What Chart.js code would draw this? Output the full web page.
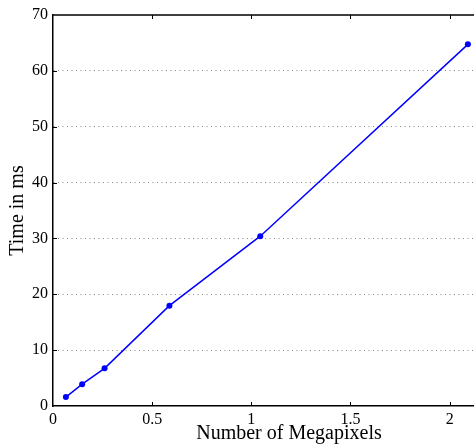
<!DOCTYPE html>
<html>
<head>
<meta charset="utf-8">
<script src="https://cdn.jsdelivr.net/npm/chart.js@4"></script>
<style>
  html, body { margin: 0; padding: 0; background: #fff; overflow: hidden; }
  /* the axes box runs past the right edge of the window, like the cropped original */
  #wrap { position: relative; width: 529px; height: 444px; }
</style>
</head>
<body>
<div id="wrap"><canvas id="chart_one"></canvas></div>
<script>
// values
var megapixels = [0.065, 0.147, 0.26, 0.587, 1.045, 2.092];
var times_ms   = [1.6, 3.9, 6.75, 17.96, 30.4, 64.75];
var x_ticks = [0, 0.5, 1, 1.5, 2];
var y_ticks = [0, 10, 20, 30, 40, 50, 60, 70];

var serif = "'Liberation Serif', 'DejaVu Serif', serif";

// matlab style frame: top line + inward tick marks
var framePlugin = {
    id: 'frame',
    afterDraw: function (chart) {
        var ctx = chart.ctx;
        var a = chart.chartArea;
        var xs = chart.scales.x, ys = chart.scales.y;
        ctx.save();
        ctx.strokeStyle = '#000';
        ctx.lineWidth = 1.5;
        ctx.beginPath();
        ctx.moveTo(a.left, a.top);
        ctx.lineTo(a.right, a.top);
        ctx.stroke();
        ctx.lineWidth = 1;
        ctx.beginPath();
        x_ticks.forEach(function (v) {
            var px = Math.round(xs.getPixelForValue(v)) + 0.5;
            if (v === 0) return;
            ctx.moveTo(px, a.bottom); ctx.lineTo(px, a.bottom - 4);
            ctx.moveTo(px, a.top); ctx.lineTo(px, a.top + 4);
        });
        y_ticks.forEach(function (v) {
            var py = Math.round(ys.getPixelForValue(v)) + 0.5;
            if (v === 0 || v === 70) return;
            ctx.moveTo(a.left, py); ctx.lineTo(a.left + 4, py);
        });
        ctx.stroke();
        ctx.restore();
    }
};

var ctx = document.getElementById('chart_one').getContext('2d');
var chart = new Chart(ctx, {
    type: 'line',
    data: {
        datasets: [{
            label: 'Time',
            data: megapixels.map(function (x, i) { return { x: x, y: times_ms[i] }; }),
            borderColor: '#0000ff',
            backgroundColor: '#0000ff',
            borderWidth: 1.5,
            pointRadius: 3,
            pointBorderWidth: 0,
            tension: 0,
            fill: false,
            clip: false
        }]
    },
    options: {
        responsive: true,
        maintainAspectRatio: false,
        animation: false,
        layout: { padding: { top: 15, right: 0, left: 0, bottom: 0 } },
        plugins: { legend: { display: false }, tooltip: { enabled: false } },
        scales: {
            x: {
                type: 'linear',
                min: 0,
                max: 2.38,
                afterBuildTicks: function (s) { s.ticks = x_ticks.map(function (v) { return { value: v }; }); },
                afterFit: function (s) { s.height = 38; },
                grid: { display: false, drawTicks: false },
                border: { color: '#000', width: 1.5 },
                ticks: {
                    padding: 4,
                    color: '#000',
                    maxRotation: 0,
                    font: { family: serif, size: 16 },
                    callback: function (v) { return String(v); }
                },
                title: {
                    display: true,
                    text: 'Number of Megapixels',
                    color: '#000',
                    font: { family: serif, size: 20 },
                    padding: { top: 0, bottom: -2 }
                }
            },
            y: {
                min: 0,
                max: 70,
                afterBuildTicks: function (s) { s.ticks = y_ticks.map(function (v) { return { value: v }; }); },
                afterFit: function (s) { s.width = 53; },
                grid: {
                    drawTicks: false,
                    color: function (c) { return (c.tick && (c.tick.value === 0 || c.tick.value === 70)) ? 'rgba(0,0,0,0)' : '#888'; },
                    lineWidth: 1
                },
                border: { color: '#000', width: 1.5, dash: [1, 3.5] },
                ticks: {
                    padding: 5,
                    color: '#000',
                    font: { family: serif, size: 16 }
                },
                title: {
                    display: true,
                    text: 'Time in ms',
                    color: '#000',
                    font: { family: serif, size: 20 },
                    padding: { top: 6, bottom: 0 }
                }
            }
        }
    },
    plugins: [framePlugin]
});
</script>
</body>
</html>
